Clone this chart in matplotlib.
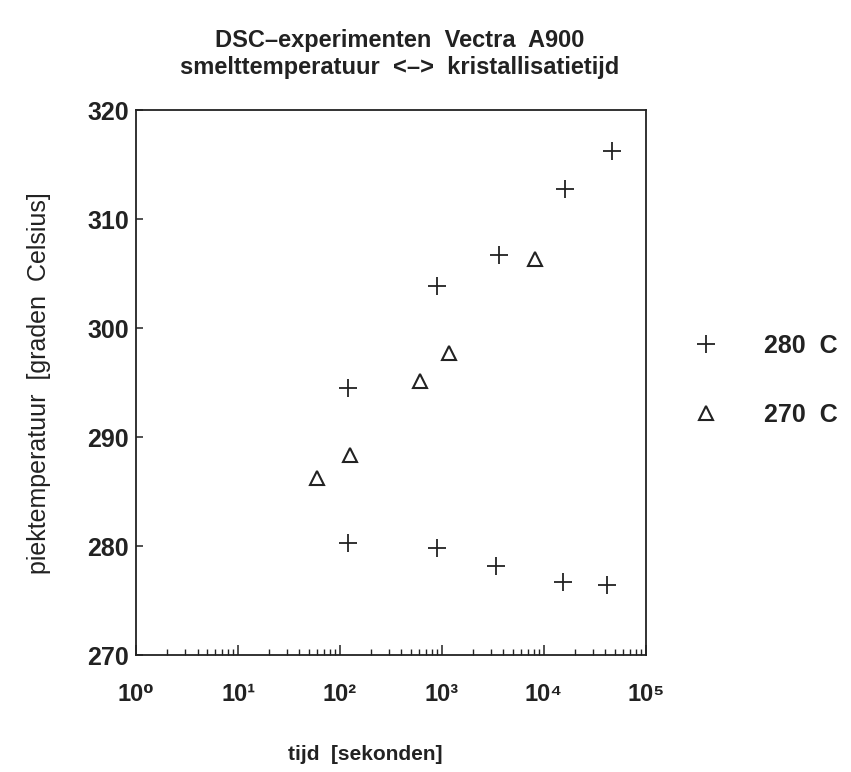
import matplotlib.pyplot as plt
from matplotlib.ticker import LogLocator, FixedLocator

plt.rcParams['font.family'] = ['Liberation Sans', 'DejaVu Sans']
plt.rcParams['font.weight'] = 'bold'

# 280 C series (tijd in seconden, piektemperatuur in graden C)
tijd_280 = [120, 120, 900, 900, 3600, 3400, 16000, 15500, 47000, 42000]
temp_280 = [294.5, 280.3, 303.9, 279.9, 306.7, 278.2, 312.8, 276.7, 316.3, 276.5]

# 270 C series
tijd_270 = [60, 124, 610, 1170, 8100]
temp_270 = [286.3, 288.4, 295.2, 297.7, 306.4]

y_ticks = [270, 280, 290, 300, 310, 320]
x_ticks = [1, 10, 100, 1000, 10000, 100000]
x_ticklabels = ['10\u2070', '10\u00b9', '10\u00b2', '10\u00b3', '10\u2074', '10\u2075']

ink = '#222222'

fig = plt.figure(figsize=(8.51, 7.72), dpi=100)
ax = fig.add_axes([0.160, 0.151, 0.599, 0.706])

ax.plot(tijd_280, temp_280, linestyle='none', marker='+', markersize=13,
        markeredgewidth=1.3, color=ink, label='280  C')
ax.plot(tijd_270, temp_270, linestyle='none', marker='^', markersize=10,
        markerfacecolor='none', markeredgewidth=1.5, color=ink, label='270  C')

ax.set_xscale('log')
ax.set_xlim(1, 1e5)
ax.set_ylim(270, 320)

ax.xaxis.set_major_locator(FixedLocator(x_ticks))
ax.set_xticklabels(x_ticklabels)
ax.xaxis.set_minor_locator(LogLocator(base=10, subs=range(2, 10)))
ax.xaxis.set_minor_formatter(plt.NullFormatter())
ax.set_yticks(y_ticks)

for s in ax.spines.values():
    s.set_linewidth(1.3)
    s.set_color(ink)

ax.tick_params(axis='x', which='major', direction='in', length=7, width=1.1,
               pad=20, labelsize=17, colors=ink)
ax.tick_params(axis='x', which='minor', direction='in', length=4, width=1.0, colors=ink)
ax.tick_params(axis='y', which='major', direction='in', length=5, width=1.1,
               pad=5, labelsize=18, colors=ink)

# axis titles
ax.set_xlabel('tijd  [sekonden]', fontsize=15, fontweight='bold', color=ink)
ax.xaxis.set_label_coords(0.45, -0.165)
ax.set_ylabel('piektemperatuur  [graden  Celsius]', fontsize=18, fontweight='normal',
              labelpad=26, color=ink)

fig.text(0.47, 0.948, 'DSC\u2013experimenten  Vectra  A900', ha='center', va='center',
         fontsize=17, color=ink)
fig.text(0.47, 0.912, 'smelttemperatuur  <\u2013>  kristallisatietijd', ha='center',
         va='center', fontsize=17, color=ink)

ax.legend(loc='center left', bbox_to_anchor=(1.05, 0.505), frameon=False,
          prop={'size': 18, 'weight': 'bold'}, labelspacing=1.8, handlelength=1.0,
          handletextpad=1.8, labelcolor=ink)

fig.savefig('out.png', dpi=100)
